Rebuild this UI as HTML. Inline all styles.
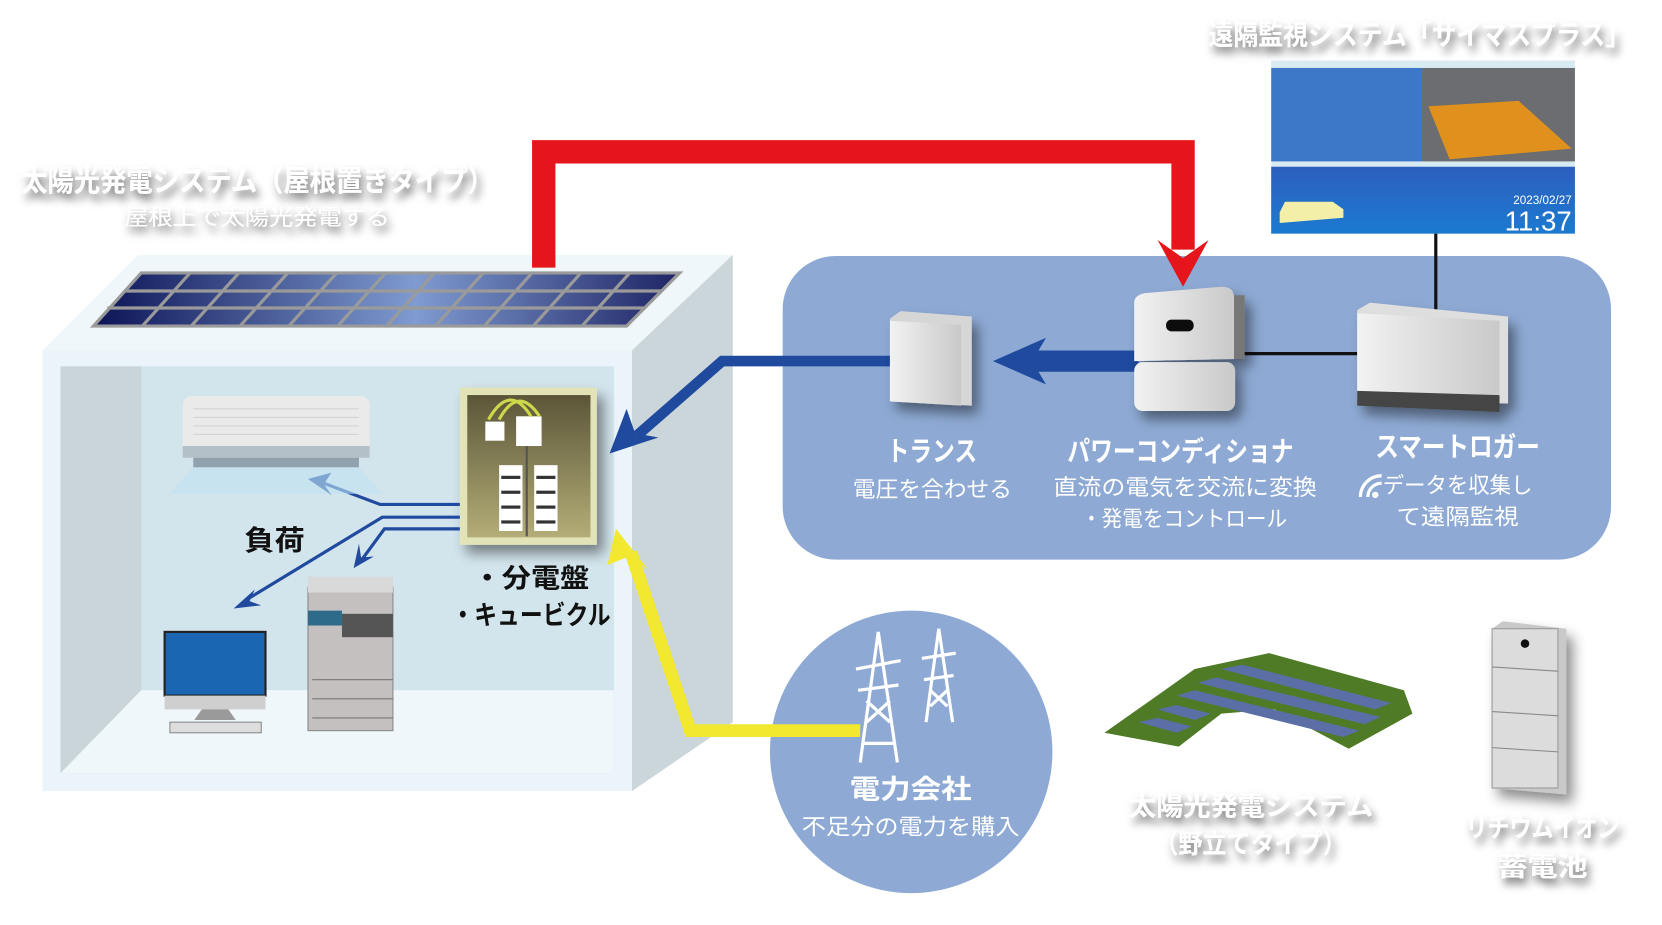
<!DOCTYPE html>
<html><head><meta charset="utf-8"><style>
html,body{margin:0;padding:0;background:#fff;width:1662px;height:925px;overflow:hidden}
svg{display:block}
text{font-family:"Liberation Sans","Noto Sans CJK JP",sans-serif}
</style></head><body>
<svg width="1662" height="925" viewBox="0 0 1565 871" preserveAspectRatio="none" xmlns="http://www.w3.org/2000/svg">
<defs>
<filter id="sh" x="-20%" y="-50%" width="140%" height="200%"><feDropShadow dx="3" dy="6" stdDeviation="4" flood-color="#000" flood-opacity="0.55"/></filter>
<filter id="bs" x="-30%" y="-30%" width="160%" height="160%"><feDropShadow dx="6" dy="8" stdDeviation="6" flood-color="#000" flood-opacity="0.45"/></filter>
<linearGradient id="pv" x1="0" x2="1" y1="0" y2="0"><stop offset="0" stop-color="#0c1456"/><stop offset="0.55" stop-color="#7f9bd0"/><stop offset="1" stop-color="#1e2464"/></linearGradient>
<linearGradient id="db" x1="0" x2="0" y1="0" y2="1"><stop offset="0" stop-color="#5b5638"/><stop offset="1" stop-color="#b4ad78"/></linearGradient>
<linearGradient id="gr" x1="0" x2="1"><stop offset="0" stop-color="#f2f2f2"/><stop offset="1" stop-color="#c9c9c9"/></linearGradient>
<linearGradient id="scr" x1="0" x2="0" y1="0" y2="1"><stop offset="0" stop-color="#2d5fbf"/><stop offset="1" stop-color="#1b7ad0"/></linearGradient>
</defs>

<!-- house -->
<polygon points="130,240 690,240 595,330 40,330" fill="#f0f7fb"/>
<polygon points="690,240 690,680 595,745 595,330" fill="#cbd6da"/>
<rect x="40" y="330" width="555" height="415" fill="#eaf4fa"/>
<rect x="57" y="345" width="521" height="383" fill="#d2e4ec"/>
<polygon points="57,345 133,345 133,650 57,728" fill="#c9d5d9"/>
<polygon points="133,650 578,650 578,728 57,728" fill="#eff7fb"/>
<!-- solar panel -->
<polygon points="133,257 640,257 590,307 88,307" fill="url(#pv)" stroke="#9a9a9a" stroke-width="3"/>
<g stroke="#9a9a9a" stroke-width="3">
<line x1="117" y1="274" x2="623" y2="274"/><line x1="101" y1="290" x2="607" y2="290"/>
<line x1="179" y1="257" x2="134" y2="307"/><line x1="225" y1="257" x2="180" y2="307"/><line x1="271" y1="257" x2="226" y2="307"/><line x1="317" y1="257" x2="272" y2="307"/><line x1="363" y1="257" x2="318" y2="307"/><line x1="409" y1="257" x2="364" y2="307"/><line x1="455" y1="257" x2="410" y2="307"/><line x1="501" y1="257" x2="456" y2="307"/><line x1="547" y1="257" x2="502" y2="307"/><line x1="593" y1="257" x2="548" y2="307"/>
</g>
<text x="20" y="180" font-size="28" font-weight="bold" fill="#fff" textLength="445" lengthAdjust="spacingAndGlyphs" filter="url(#sh)">太陽光発電システム（屋根置きタイプ）</text>
<text x="117" y="212" font-size="21" fill="#fff" textLength="250" lengthAdjust="spacingAndGlyphs" filter="url(#sh)">屋根上で太陽光発電する</text>

<!-- blue panel -->
<rect x="737" y="241" width="780" height="286" rx="50" fill="#8eaad4"/>

<!-- red line -->
<polyline points="512,252 512,143 1114,143 1114,235" fill="none" stroke="#e5151b" stroke-width="22"/>
<polygon points="1090,226 1114,243 1138,226 1114,270" fill="#e5151b"/>

<!-- screen -->
<text x="1138" y="42" font-size="26" font-weight="bold" fill="#fff" textLength="397" lengthAdjust="spacingAndGlyphs" filter="url(#sh)">遠隔監視システム「サイマスプラス」</text>
<rect x="1197" y="57" width="286" height="163" fill="#d8eaf2"/>
<rect x="1197" y="64" width="142" height="88" fill="#3d78c8"/>
<rect x="1339" y="64" width="144" height="88" fill="#6b6d70"/>
<polygon points="1345,100 1430,95 1480,140 1365,150" fill="#e0901c"/>
<rect x="1197" y="157" width="286" height="63" fill="url(#scr)"/>
<polygon points="1205,200 1210,190 1255,190 1265,197 1265,205 1205,210" fill="#f3eea8"/>
<text x="1480" y="192" font-size="11" fill="#fff" text-anchor="end">2023/02/27</text>
<text x="1480" y="217" font-size="26" fill="#fff" text-anchor="end">11:37</text>
<line x1="1352" y1="220" x2="1352" y2="292" stroke="#111" stroke-width="3"/>
<line x1="1165" y1="333" x2="1280" y2="333" stroke="#111" stroke-width="3"/>

<!-- blue arrows -->
<line x1="1072" y1="340" x2="970" y2="340" stroke="#1f4a9e" stroke-width="20"/>
<polygon points="935,340 985,318 972,340 985,362" fill="#1f4a9e"/>
<polyline points="840,340 680,340 600,410" fill="none" stroke="#1f4a9e" stroke-width="10"/>
<polygon points="574,427 590,385 598,408 620,412" fill="#1f4a9e"/>

<!-- transformer -->
<g filter="url(#bs)">
<polygon points="838,300 848,293 915,298 915,382 838,378" fill="#d6d6d6"/>
<polygon points="838,302 905,306 905,382 838,378" fill="url(#gr)"/>
</g>
<!-- inverter -->
<g filter="url(#bs)">
<rect x="1160" y="278" width="12" height="60" fill="#777"/>
<path d="M1068,285 Q1068,278 1078,276 L1150,270 Q1162,270 1162,280 L1162,338 L1068,340 Z" fill="url(#gr)"/>
<rect x="1068" y="341" width="95" height="46" rx="8" fill="url(#gr)"/>
<rect x="1098" y="301" width="26" height="11" rx="5" fill="#111"/>
</g>
<!-- logger -->
<g filter="url(#bs)">
<polygon points="1278,292 1290,285 1420,298 1420,380 1278,378" fill="#dedede"/>
<polygon points="1278,295 1412,302 1412,372 1278,368" fill="url(#gr)"/>
<polygon points="1278,368 1412,372 1412,388 1278,382" fill="#444"/>
</g>

<g fill="#fff">
<text x="835" y="434" font-size="26" font-weight="bold" textLength="85" lengthAdjust="spacingAndGlyphs">トランス</text>
<text x="803" y="468" font-size="21" textLength="150" lengthAdjust="spacingAndGlyphs">電圧を合わせる</text>
<text x="1005" y="434" font-size="26" font-weight="bold" textLength="213" lengthAdjust="spacingAndGlyphs">パワーコンディショナ</text>
<text x="992" y="466" font-size="21" textLength="248" lengthAdjust="spacingAndGlyphs">直流の電気を交流に変換</text>
<text x="1018" y="496" font-size="21" textLength="194" lengthAdjust="spacingAndGlyphs">・発電をコントロール</text>
<text x="1295" y="430" font-size="26" font-weight="bold" textLength="155" lengthAdjust="spacingAndGlyphs">スマートロガー</text>
<text x="1302" y="464" font-size="21" textLength="141" lengthAdjust="spacingAndGlyphs">データを収集し</text>
<text x="1315" y="494" font-size="21" textLength="115" lengthAdjust="spacingAndGlyphs">て遠隔監視</text>
</g>
<g fill="none" stroke="#fff" stroke-width="3"><path d="M1281,468 a20,20 0 0 1 20,-20"/><path d="M1288,468 a13,13 0 0 1 13,-13"/></g>
<circle cx="1295" cy="466" r="3" fill="#fff"/>

<!-- distribution board -->
<g filter="url(#bs)">
<rect x="433" y="365" width="129" height="148" fill="#e2e4b8"/>
<rect x="440" y="372" width="116" height="134" fill="url(#db)"/>
</g>
<g fill="#fff"><rect x="457" y="397" width="18" height="18"/><rect x="486" y="392" width="24" height="28"/>
<rect x="470" y="438" width="22" height="62"/><rect x="503" y="438" width="22" height="62"/></g>
<g fill="#333"><rect x="472" y="448" width="18" height="3"/><rect x="472" y="462" width="18" height="3"/><rect x="472" y="476" width="18" height="3"/><rect x="472" y="490" width="18" height="3"/><rect x="505" y="448" width="18" height="3"/><rect x="505" y="462" width="18" height="3"/><rect x="505" y="476" width="18" height="3"/><rect x="505" y="490" width="18" height="3"/></g>
<path d="M460,395 Q480,360 500,392 M470,395 Q488,362 508,392" fill="none" stroke="#cdd94a" stroke-width="3"/>
<rect x="495" y="420" width="2" height="85" fill="#555"/>
<!-- load lines -->
<g fill="none" stroke="#1f4a9e" stroke-width="3">
<polyline points="433,475 358,475 305,455"/>
<polyline points="433,487 360,487 230,566"/>
<polyline points="433,498 362,498 340,528"/>
</g>
<g fill="#1f4a9e">
<polygon points="290,451 312,445 305,456 312,466"/>
<polygon points="220,573 240,555 235,566 246,570"/>
<polygon points="333,535 338,512 340,525 352,524"/>
</g>
<text x="230" y="518" font-size="26" font-weight="bold" fill="#111" textLength="57" lengthAdjust="spacingAndGlyphs">負荷</text>
<text x="445" y="553" font-size="25" font-weight="bold" fill="#111" textLength="110" lengthAdjust="spacingAndGlyphs">・分電盤</text>
<text x="425" y="588" font-size="25" font-weight="bold" fill="#111" textLength="150" lengthAdjust="spacingAndGlyphs">・キュービクル</text>

<!-- AC -->
<polygon points="182,440 338,440 360,465 160,465" fill="#bfe2f3" opacity="0.6"/>
<rect x="172" y="373" width="176" height="58" rx="8" fill="#eaeaea"/>
<g stroke="#d0d0d0"><line x1="182" y1="385" x2="338" y2="385"/><line x1="182" y1="393" x2="338" y2="393"/><line x1="182" y1="401" x2="338" y2="401"/><line x1="182" y1="409" x2="338" y2="409"/></g>
<rect x="172" y="420" width="176" height="11" fill="#b4c0c8"/>
<rect x="182" y="431" width="156" height="9" fill="#8fa2ae"/>
<!-- monitor -->
<rect x="155" y="595" width="95" height="60" fill="#1a66b2" stroke="#222" stroke-width="2"/>
<rect x="155" y="655" width="95" height="13" fill="#cfcfcf"/>
<polygon points="190,668 215,668 222,678 183,678" fill="#9a9a9a"/>
<rect x="160" y="680" width="86" height="10" fill="#ddd" stroke="#888"/>
<!-- copier -->
<rect x="290" y="553" width="80" height="135" fill="#c3c0bf" stroke="#888"/>
<rect x="290" y="543" width="80" height="15" fill="#d9d9d9"/>
<rect x="290" y="575" width="32" height="14" fill="#2e6a8a"/>
<rect x="322" y="578" width="48" height="22" fill="#555"/>
<line x1="294" y1="640" x2="370" y2="640" stroke="#777"/><line x1="294" y1="658" x2="370" y2="658" stroke="#777"/><line x1="294" y1="676" x2="370" y2="676" stroke="#777"/>

<!-- power company circle -->
<ellipse cx="858" cy="708" rx="133" ry="133" fill="#8eaad4"/>
<polyline points="810,688 650,688 594,520" fill="none" stroke="#f2e830" stroke-width="12"/>
<polygon points="580,498 572,532 592,524 610,536" fill="#f2e830"/>
<g stroke="#fff" stroke-width="3" fill="none">
<path d="M827,595 L810,718 M827,595 L845,718 M812,700 L843,700 M816,660 L838,680 M838,660 L816,680 M806,630 L848,622 M808,650 L846,645"/>
<path d="M884,592 L872,680 M884,592 L897,680 M876,650 L892,665 M892,650 L876,665 M868,620 L900,615 M870,640 L898,636"/>
</g>
<text x="800" y="752" font-size="25" font-weight="bold" fill="#fff" textLength="115" lengthAdjust="spacingAndGlyphs">電力会社</text>
<text x="755" y="786" font-size="21" fill="#fff" textLength="205" lengthAdjust="spacingAndGlyphs">不足分の電力を購入</text>

<!-- solar farm -->
<polygon points="1040,690 1125,630 1195,615 1322,650 1330,672 1270,705 1200,668 1150,672 1110,703" fill="#4f7a26"/>
<g fill="#5b6fa6">
<polygon points="1150,630 1170,626 1310,662 1295,668"/>
<polygon points="1128,643 1145,638 1300,675 1285,682"/>
<polygon points="1108,655 1125,650 1280,688 1265,694"/>
<polygon points="1090,668 1108,664 1140,672 1125,678"/>
<polygon points="1072,680 1090,676 1122,684 1108,690"/>
</g>

<text x="1063" y="768" font-size="25" font-weight="bold" fill="#fff" textLength="230" lengthAdjust="spacingAndGlyphs" filter="url(#sh)">太陽光発電システム</text>
<text x="1087" y="803" font-size="25" font-weight="bold" fill="#fff" textLength="181" lengthAdjust="spacingAndGlyphs" filter="url(#sh)">（野立てタイプ）</text>

<!-- battery -->
<g filter="url(#bs)">
<polygon points="1405,592 1415,585 1475,592 1475,748 1405,742" fill="#c9c9c9"/>
<rect x="1405" y="592" width="62" height="150" fill="#dcdcdc" stroke="#999"/>
<line x1="1405" y1="628" x2="1467" y2="632" stroke="#888"/><line x1="1405" y1="670" x2="1467" y2="674" stroke="#888"/><line x1="1405" y1="704" x2="1467" y2="708" stroke="#888"/>
</g>
<circle cx="1436" cy="606" r="4" fill="#111"/>
<text x="1380" y="788" font-size="25" font-weight="bold" fill="#fff" textLength="145" lengthAdjust="spacingAndGlyphs" filter="url(#sh)">リチウムイオン</text>
<text x="1410" y="825" font-size="25" font-weight="bold" fill="#fff" textLength="85" lengthAdjust="spacingAndGlyphs" filter="url(#sh)">蓄電池</text>
</svg>
</body></html>
